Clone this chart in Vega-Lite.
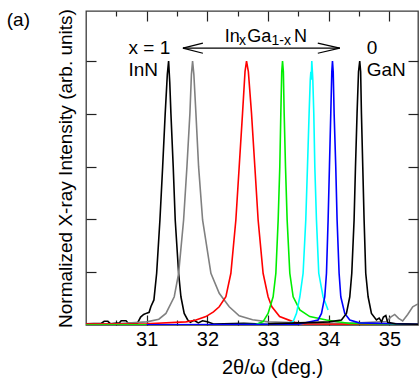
{
  "$schema": "https://vega.github.io/schema/vega-lite/v6.json",
  "width": 332,
  "height": 314,
  "autosize": {"type": "none"},
  "padding": {"left": 86, "top": 11, "right": 1, "bottom": 53},
  "config": {
    "font": "Liberation Sans",
    "view": {"stroke": "#3a3a3a", "strokeWidth": 1.3},
    "axis": {"grid": false, "domain": false, "tickColor": "#222", "tickWidth": 1.2, "labelColor": "black", "titleColor": "black", "titleFontWeight": "normal", "labelFont": "Liberation Sans", "titleFont": "Liberation Sans"}
  },
  "datasets": {
    "curves": [
      {"s": "c1", "x": 30.0, "y": 0.005}, {"s": "c1", "x": 30.25, "y": 0.006}, {"s": "c1", "x": 30.3, "y": 0.014}, {"s": "c1", "x": 30.36, "y": 0.014}, {"s": "c1", "x": 30.4, "y": 0.005},
      {"s": "c1", "x": 30.55, "y": 0.008}, {"s": "c1", "x": 30.58, "y": 0.016}, {"s": "c1", "x": 30.66, "y": 0.016}, {"s": "c1", "x": 30.7, "y": 0.006}, {"s": "c1", "x": 30.85, "y": 0.008},
      {"s": "c1", "x": 30.9, "y": 0.03}, {"s": "c1", "x": 30.95, "y": 0.04}, {"s": "c1", "x": 31.0, "y": 0.045}, {"s": "c1", "x": 31.04, "y": 0.048}, {"s": "c1", "x": 31.07, "y": 0.07},
      {"s": "c1", "x": 31.119, "y": 0.095}, {"s": "c1", "x": 31.164, "y": 0.196}, {"s": "c1", "x": 31.218, "y": 0.398}, {"s": "c1", "x": 31.263, "y": 0.6}, {"s": "c1", "x": 31.305, "y": 0.802},
      {"s": "c1", "x": 31.34, "y": 0.95}, {"s": "c1", "x": 31.361, "y": 1.0}, {"s": "c1", "x": 31.38, "y": 0.92}, {"s": "c1", "x": 31.399, "y": 0.802}, {"s": "c1", "x": 31.437, "y": 0.6},
      {"s": "c1", "x": 31.47, "y": 0.398}, {"s": "c1", "x": 31.526, "y": 0.196}, {"s": "c1", "x": 31.564, "y": 0.107}, {"s": "c1", "x": 31.618, "y": 0.044}, {"s": "c1", "x": 31.674, "y": 0.02},
      {"s": "c1", "x": 31.72, "y": 0.01}, {"s": "c1", "x": 31.78, "y": 0.018}, {"s": "c1", "x": 31.85, "y": 0.008}, {"s": "c1", "x": 31.92, "y": 0.016}, {"s": "c1", "x": 32.0, "y": 0.012},
      {"s": "c1", "x": 32.1, "y": 0.004}, {"s": "c1", "x": 32.6, "y": 0.006}, {"s": "c1", "x": 33.0, "y": 0.003}, {"s": "c1", "x": 33.5, "y": 0.005},

      {"s": "c2", "x": 30.0, "y": 0.003}, {"s": "c2", "x": 30.5, "y": 0.005}, {"s": "c2", "x": 31.0, "y": 0.012}, {"s": "c2", "x": 31.2, "y": 0.022}, {"s": "c2", "x": 31.317, "y": 0.044},
      {"s": "c2", "x": 31.454, "y": 0.107}, {"s": "c2", "x": 31.526, "y": 0.196}, {"s": "c2", "x": 31.608, "y": 0.398}, {"s": "c2", "x": 31.663, "y": 0.6}, {"s": "c2", "x": 31.712, "y": 0.802},
      {"s": "c2", "x": 31.737, "y": 0.95}, {"s": "c2", "x": 31.756, "y": 1.0}, {"s": "c2", "x": 31.777, "y": 0.95}, {"s": "c2", "x": 31.811, "y": 0.802}, {"s": "c2", "x": 31.855, "y": 0.6},
      {"s": "c2", "x": 31.921, "y": 0.398}, {"s": "c2", "x": 32.058, "y": 0.196}, {"s": "c2", "x": 32.195, "y": 0.12}, {"s": "c2", "x": 32.36, "y": 0.069}, {"s": "c2", "x": 32.524, "y": 0.035},
      {"s": "c2", "x": 32.744, "y": 0.02}, {"s": "c2", "x": 33.0, "y": 0.012}, {"s": "c2", "x": 33.5, "y": 0.008}, {"s": "c2", "x": 34.0, "y": 0.006}, {"s": "c2", "x": 34.5, "y": 0.008},
      {"s": "c2", "x": 34.95, "y": 0.013}, {"s": "c2", "x": 35.02, "y": 0.03}, {"s": "c2", "x": 35.086, "y": 0.04}, {"s": "c2", "x": 35.15, "y": 0.025}, {"s": "c2", "x": 35.218, "y": 0.015},
      {"s": "c2", "x": 35.3, "y": 0.04}, {"s": "c2", "x": 35.383, "y": 0.069}, {"s": "c2", "x": 35.47, "y": 0.08},

      {"s": "c3", "x": 30.0, "y": 0.004}, {"s": "c3", "x": 31.0, "y": 0.005}, {"s": "c3", "x": 31.646, "y": 0.012}, {"s": "c3", "x": 31.8, "y": 0.018}, {"s": "c3", "x": 31.975, "y": 0.032},
      {"s": "c3", "x": 32.1, "y": 0.05}, {"s": "c3", "x": 32.195, "y": 0.069}, {"s": "c3", "x": 32.305, "y": 0.107}, {"s": "c3", "x": 32.387, "y": 0.196}, {"s": "c3", "x": 32.469, "y": 0.398},
      {"s": "c3", "x": 32.524, "y": 0.6}, {"s": "c3", "x": 32.579, "y": 0.802}, {"s": "c3", "x": 32.62, "y": 0.96}, {"s": "c3", "x": 32.645, "y": 1.0}, {"s": "c3", "x": 32.675, "y": 0.96},
      {"s": "c3", "x": 32.727, "y": 0.802}, {"s": "c3", "x": 32.782, "y": 0.6}, {"s": "c3", "x": 32.836, "y": 0.398}, {"s": "c3", "x": 32.918, "y": 0.196}, {"s": "c3", "x": 33.0, "y": 0.107},
      {"s": "c3", "x": 33.06, "y": 0.07}, {"s": "c3", "x": 33.19, "y": 0.032}, {"s": "c3", "x": 33.44, "y": 0.01}, {"s": "c3", "x": 33.6, "y": 0.004}, {"s": "c3", "x": 35.47, "y": 0.002},

      {"s": "c4", "x": 30.0, "y": 0.0}, {"s": "c4", "x": 32.8, "y": 0.002}, {"s": "c4", "x": 32.918, "y": 0.013}, {"s": "c4", "x": 33.0, "y": 0.044}, {"s": "c4", "x": 33.083, "y": 0.107},
      {"s": "c4", "x": 33.128, "y": 0.196}, {"s": "c4", "x": 33.166, "y": 0.398}, {"s": "c4", "x": 33.193, "y": 0.6}, {"s": "c4", "x": 33.21, "y": 0.802}, {"s": "c4", "x": 33.225, "y": 0.96},
      {"s": "c4", "x": 33.238, "y": 1.0}, {"s": "c4", "x": 33.252, "y": 0.96}, {"s": "c4", "x": 33.265, "y": 0.802}, {"s": "c4", "x": 33.287, "y": 0.6}, {"s": "c4", "x": 33.314, "y": 0.398},
      {"s": "c4", "x": 33.358, "y": 0.196}, {"s": "c4", "x": 33.413, "y": 0.107}, {"s": "c4", "x": 33.523, "y": 0.057}, {"s": "c4", "x": 33.687, "y": 0.032}, {"s": "c4", "x": 33.962, "y": 0.019},
      {"s": "c4", "x": 34.346, "y": 0.006}, {"s": "c4", "x": 35.47, "y": 0.002},

      {"s": "c5", "x": 31.9, "y": 0.0}, {"s": "c5", "x": 33.3, "y": 0.003}, {"s": "c5", "x": 33.413, "y": 0.013}, {"s": "c5", "x": 33.468, "y": 0.044}, {"s": "c5", "x": 33.523, "y": 0.107},
      {"s": "c5", "x": 33.577, "y": 0.196}, {"s": "c5", "x": 33.621, "y": 0.398}, {"s": "c5", "x": 33.649, "y": 0.6}, {"s": "c5", "x": 33.676, "y": 0.802}, {"s": "c5", "x": 33.695, "y": 0.93},
      {"s": "c5", "x": 33.705, "y": 0.96}, {"s": "c5", "x": 33.712, "y": 0.93}, {"s": "c5", "x": 33.72, "y": 1.0}, {"s": "c5", "x": 33.737, "y": 0.93}, {"s": "c5", "x": 33.753, "y": 0.802},
      {"s": "c5", "x": 33.77, "y": 0.6}, {"s": "c5", "x": 33.797, "y": 0.398}, {"s": "c5", "x": 33.835, "y": 0.196}, {"s": "c5", "x": 33.906, "y": 0.107}, {"s": "c5", "x": 33.988, "y": 0.057},

      {"s": "c6", "x": 31.0, "y": 0.001}, {"s": "c6", "x": 33.5, "y": 0.003}, {"s": "c6", "x": 33.824, "y": 0.019}, {"s": "c6", "x": 33.88, "y": 0.044}, {"s": "c6", "x": 33.934, "y": 0.107},
      {"s": "c6", "x": 33.962, "y": 0.196}, {"s": "c6", "x": 33.989, "y": 0.398}, {"s": "c6", "x": 34.011, "y": 0.6}, {"s": "c6", "x": 34.033, "y": 0.802}, {"s": "c6", "x": 34.05, "y": 0.96},
      {"s": "c6", "x": 34.061, "y": 1.0}, {"s": "c6", "x": 34.073, "y": 0.96}, {"s": "c6", "x": 34.088, "y": 0.802}, {"s": "c6", "x": 34.115, "y": 0.6}, {"s": "c6", "x": 34.137, "y": 0.398},
      {"s": "c6", "x": 34.17, "y": 0.196}, {"s": "c6", "x": 34.198, "y": 0.107}, {"s": "c6", "x": 34.263, "y": 0.044}, {"s": "c6", "x": 34.346, "y": 0.019}, {"s": "c6", "x": 34.5, "y": 0.008},
      {"s": "c6", "x": 35.47, "y": 0.003},

      {"s": "c7", "x": 33.0, "y": 0.005}, {"s": "c7", "x": 33.5, "y": 0.008}, {"s": "c7", "x": 33.8, "y": 0.01}, {"s": "c7", "x": 34.0, "y": 0.012}, {"s": "c7", "x": 34.209, "y": 0.019},
      {"s": "c7", "x": 34.291, "y": 0.044}, {"s": "c7", "x": 34.346, "y": 0.107}, {"s": "c7", "x": 34.379, "y": 0.196}, {"s": "c7", "x": 34.417, "y": 0.398}, {"s": "c7", "x": 34.44, "y": 0.6},
      {"s": "c7", "x": 34.466, "y": 0.802}, {"s": "c7", "x": 34.49, "y": 0.96}, {"s": "c7", "x": 34.51, "y": 1.0}, {"s": "c7", "x": 34.525, "y": 0.96}, {"s": "c7", "x": 34.538, "y": 0.802},
      {"s": "c7", "x": 34.56, "y": 0.6}, {"s": "c7", "x": 34.582, "y": 0.398}, {"s": "c7", "x": 34.609, "y": 0.196}, {"s": "c7", "x": 34.648, "y": 0.107}, {"s": "c7", "x": 34.703, "y": 0.044},
      {"s": "c7", "x": 34.785, "y": 0.019}, {"s": "c7", "x": 34.83, "y": 0.026}, {"s": "c7", "x": 34.87, "y": 0.012}, {"s": "c7", "x": 34.9, "y": 0.03}, {"s": "c7", "x": 34.94, "y": 0.036},
      {"s": "c7", "x": 34.97, "y": 0.01}, {"s": "c7", "x": 35.1, "y": 0.005}, {"s": "c7", "x": 35.47, "y": 0.003}
    ],
    "arrow": [
      {"x": 31.597, "y": 1.049, "x2": 34.181, "y2": 1.049},
      {"x": 31.597, "y": 1.049, "x2": 31.926, "y2": 1.068},
      {"x": 31.597, "y": 1.049, "x2": 31.926, "y2": 1.030},
      {"x": 34.181, "y": 1.049, "x2": 33.819, "y2": 1.068},
      {"x": 34.181, "y": 1.049, "x2": 33.819, "y2": 1.030}
    ],
    "labels": [
      {"t": "x = 1", "x": 30.70, "y": 1.028},
      {"t": "InN", "x": 30.70, "y": 0.943},
      {"t": "0", "x": 34.626, "y": 1.028},
      {"t": "GaN", "x": 34.626, "y": 0.943},
      {"t": "(a)", "x": 28.695, "y": 1.133}
    ],
    "formula": [
      {"t": "In", "x": 32.288, "y": 1.072},
      {"t": "Ga", "x": 32.655, "y": 1.072},
      {"t": "N", "x": 33.429, "y": 1.072}
    ],
    "subs": [
      {"t": "x", "x": 32.519, "y": 1.062},
      {"t": "1-x", "x": 33.057, "y": 1.062}
    ]
  },
  "resolve": {"axis": {"x": "independent", "y": "independent"}},
  "layer": [
    {
      "data": {"name": "curves"},
      "mark": {"type": "line", "clip": true, "strokeWidth": 1.6},
      "encoding": {
        "x": {"field": "x", "type": "quantitative", "scale": {"domain": [30, 35.47], "nice": false, "zero": false},
          "axis": {"orient": "bottom", "values": [30.5, 31, 31.5, 32, 32.5, 33, 33.5, 34, 34.5, 35],
            "tickSize": {"condition": {"test": "datum.value % 1 === 0", "value": -10}, "value": -5},
            "labelExpr": "datum.value % 1 === 0 ? format(datum.value, 'd') : ''",
            "labelFontSize": 20, "labelPadding": 14, "labelFlush": false, "labelOverlap": false,
            "title": "2θ/ω (deg.)", "titleFontSize": 20, "titleX": 186, "titleY": 42, "titleAlign": "center", "titleBaseline": "middle"}},
        "y": {"field": "y", "type": "quantitative", "scale": {"domain": [0, 1.19], "nice": false},
          "axis": {"orient": "left", "values": [0.2, 0.4, 0.6, 0.8, 1.0], "tickSize": -10, "labels": false,
            "title": "Normalized X-ray Intensity (arb. units)", "titleFontSize": 19, "titleX": -21, "titleY": 157, "titleAngle": -90, "titleAlign": "center", "titleBaseline": "middle"}},
        "color": {"field": "s", "type": "nominal", "legend": null,
          "scale": {"domain": ["c1", "c2", "c3", "c4", "c5", "c6", "c7"], "range": ["#000000", "#808080", "#ff0000", "#00ee00", "#00ffff", "#0000ff", "#000000"]}}
      }
    },
    {
      "data": {"name": "arrow"},
      "mark": {"type": "rule", "color": "black", "strokeWidth": 1.2},
      "encoding": {
        "x": {"field": "x", "type": "quantitative",
          "axis": {"orient": "top", "values": [30.5, 31, 31.5, 32, 32.5, 33, 33.5, 34, 34.5, 35],
            "tickSize": {"condition": {"test": "datum.value % 1 === 0", "value": -10}, "value": -5},
            "labels": false, "title": null}},
        "x2": {"field": "x2"},
        "y": {"field": "y", "type": "quantitative",
          "axis": {"orient": "right", "values": [0.2, 0.4, 0.6, 0.8, 1.0], "tickSize": -10, "labels": false, "title": null}},
        "y2": {"field": "y2"}
      }
    },
    {
      "data": {"name": "labels"},
      "mark": {"type": "text", "align": "left", "baseline": "alphabetic", "fontSize": 19, "color": "black"},
      "encoding": {
        "x": {"field": "x", "type": "quantitative", "axis": null},
        "y": {"field": "y", "type": "quantitative", "axis": null},
        "text": {"field": "t"}
      }
    },
    {
      "data": {"name": "formula"},
      "mark": {"type": "text", "align": "left", "baseline": "alphabetic", "fontSize": 18, "color": "black"},
      "encoding": {
        "x": {"field": "x", "type": "quantitative", "axis": null},
        "y": {"field": "y", "type": "quantitative", "axis": null},
        "text": {"field": "t"}
      }
    },
    {
      "data": {"name": "subs"},
      "mark": {"type": "text", "align": "left", "baseline": "alphabetic", "fontSize": 14, "color": "black"},
      "encoding": {
        "x": {"field": "x", "type": "quantitative", "axis": null},
        "y": {"field": "y", "type": "quantitative", "axis": null},
        "text": {"field": "t"}
      }
    }
  ]
}
